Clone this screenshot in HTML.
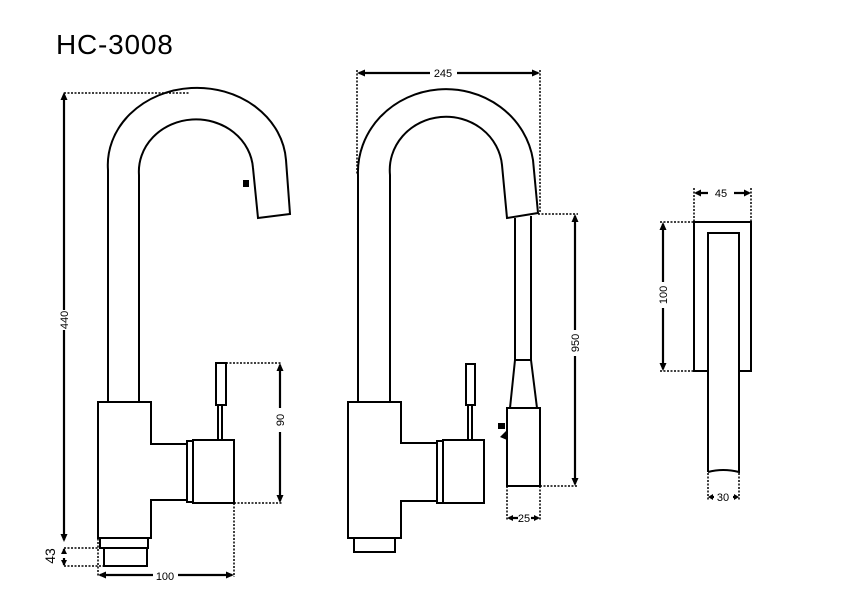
<!DOCTYPE html>
<html><head><meta charset="utf-8"><style>
html,body{margin:0;padding:0;background:#fff;width:842px;height:595px;overflow:hidden}
svg{display:block}
text{font-family:"Liberation Sans",sans-serif;fill:#000}
</style></head><body>
<svg width="842" height="595" viewBox="0 0 842 595" xmlns="http://www.w3.org/2000/svg">
<text x="56" y="54" font-size="28" letter-spacing="0.8">HC-3008</text>

<g fill="none" stroke="#000" stroke-width="2">
<path d="M108,402 L108,170 A89,77 0 0 1 286,160 L290,214 L258,218 L253,168 A57,52 0 0 0 139,175 L139,402"/>
<path d="M98,402 H151 V444 H187 V500 H151 V538 H98 Z"/>
<rect x="187" y="441" width="6" height="61"/>
<rect x="193" y="440" width="41" height="63"/>
<rect x="216" y="363" width="10" height="42"/>
<path d="M218,405 V440 M222,405 V440"/>
<rect x="100" y="538" width="48" height="10"/>
<rect x="104" y="548" width="43" height="18"/>
</g>
<rect x="243" y="180" width="6" height="7" fill="#000"/>

<g fill="none" stroke="#000" stroke-width="2">
<path d="M358,402 L358,175 A88,83 0 0 1 533,160 L538,213 L507,218 L502,165 A56,53 0 0 0 390,175 L390,402"/>
<path d="M515,218 V360 L510,408 M531,216 V360 L537,408 M515,360 H531"/>
<rect x="507" y="408" width="33" height="78"/>
<path d="M348,402 H401 V443 H437 V501 H401 V538 H348 Z"/>
<rect x="437" y="441" width="6" height="62"/>
<rect x="443" y="440" width="41" height="63"/>
<rect x="466" y="364" width="9" height="41"/>
<path d="M468,405 V440 M472,405 V440"/>
<rect x="354" y="538" width="41" height="14"/>
</g>
<rect x="498" y="423" width="7" height="6" fill="#000"/>
<path d="M500,437 L507,430 L507,440 Z" fill="#000"/>

<g fill="none" stroke="#000" stroke-width="2">
<path d="M708,371 H694 V222 H751 V371 H739"/>
<path d="M708,472 V233 H739 V472 Q723,468 708,472"/>
</g>

<g stroke="#000" stroke-width="1.5" stroke-dasharray="2,1.5" fill="none">
<path d="M64,93 H190"/>
<path d="M64,548 H104 M64,566 H104"/>
<path d="M226,363 H282 M234,503 H282"/>
<path d="M98,500 V577 M234,503 V577"/>
<path d="M357,70 V175 M540,70 V213"/>
<path d="M538,214 H578 M540,486 H578"/>
<path d="M507,486 V520 M540,486 V520"/>
<path d="M694,188 V222 M751,188 V222"/>
<path d="M660,222 H694 M660,371 H694"/>
<path d="M708,473 V500 M739,473 V500"/>
</g>
<g stroke="#000" stroke-width="2.2" fill="none">
<path d="M64,95 V310 M64,330 V540"/>
<path d="M64,549 V554 M64,558 V565"/>
<path d="M280,365 V408 M280,432 V501"/>
<path d="M100,575 H153 M178,575 H232"/>
<path d="M359,73 H430 M457,73 H538"/>
<path d="M575,216 V330 M575,356 V484"/>
<path d="M509,518 H518 M531,518 H538"/>
<path d="M696,193 H708 M734,193 H749"/>
<path d="M663,224 V282 M663,308 V369"/>
<path d="M710,497 H714 M733,497 H737"/>
</g>
<g fill="#000">
<path d="M64,92 l-3.5,8 h7z M64,542 l-3.5,-8 h7z"/>
<path d="M64,548 l-3,6 h6z M64,566 l-3,-6 h6z"/>
<path d="M280,363 l-3.5,8 h7z M280,503 l-3.5,-8 h7z"/>
<path d="M98,575 l8,-3.5 v7z M234,575 l-8,-3.5 v7z"/>
<path d="M357,73 l8,-3.5 v7z M540,73 l-8,-3.5 v7z"/>
<path d="M575,214 l-3.5,8 h7z M575,486 l-3.5,-8 h7z"/>
<path d="M507,518 l6,-3 v6z M540,518 l-6,-3 v6z"/>
<path d="M694,193 l7,-3.5 v7z M751,193 l-7,-3.5 v7z"/>
<path d="M663,222 l-3.5,8 h7z M663,371 l-3.5,-8 h7z"/>
<path d="M708,497 l5,-3 v6z M739,497 l-5,-3 v6z"/>
</g>
<g font-size="11">
<text transform="translate(68,320) rotate(-90)" text-anchor="middle">440</text>
<text transform="translate(55,556) rotate(-90)" text-anchor="middle" font-size="14">43</text>
<text transform="translate(284,420) rotate(-90)" text-anchor="middle">90</text>
<text x="165" y="580" text-anchor="middle">100</text>
<text x="443" y="77" text-anchor="middle">245</text>
<text transform="translate(579,343) rotate(-90)" text-anchor="middle">950</text>
<text x="524" y="522" text-anchor="middle">25</text>
<text x="721" y="197" text-anchor="middle">45</text>
<text transform="translate(667,295) rotate(-90)" text-anchor="middle">100</text>
<text x="723" y="501" text-anchor="middle">30</text>
</g>
</svg>
</body></html>
